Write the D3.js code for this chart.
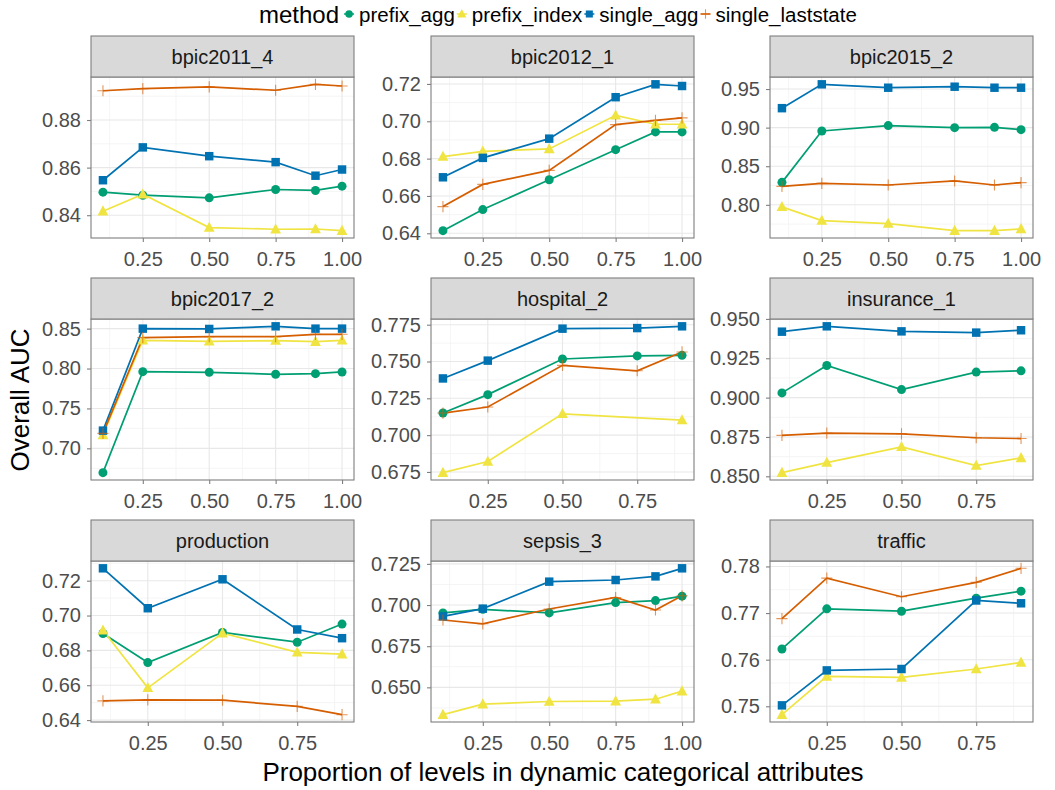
<!DOCTYPE html>
<html><head><meta charset="utf-8">
<script src="https://cdn.jsdelivr.net/npm/d3@7"></script>
<style>
body{margin:0;background:#fff}
svg{display:block}
text{font-family:"Liberation Sans",Arial,Helvetica,sans-serif}
</style>
</head><body>
<svg id="chart" width="1055" height="790"></svg>
<script>
// ---------- data ----------
const methods = ["prefix_agg","prefix_index","single_agg","single_laststate"];
const methodColors = ["#009E73","#F0E442","#0072B2","#D55E00"];
const methodShapes = ["circle","triangle","square","plus"];

const datasets = ["bpic2011_4","bpic2012_1","bpic2015_2","bpic2017_2","hospital_2","insurance_1","production","sepsis_3","traffic"];

const levelsFull = [0.1,0.25,0.5,0.75,0.9,1.0];
const levelsShort = [0.1,0.25,0.5,0.75,0.9];
const xTicksFull = ["0.25","0.50","0.75","1.00"];
const xTicksShort = ["0.25","0.50","0.75"];

// rows follow methods order: prefix_agg, prefix_index, single_agg, single_laststate
const auc_bpic2011_4 = [
  [0.8497,0.8484,0.8473,0.8508,0.8504,0.8522],
  [0.8417,0.8488,0.8348,0.8341,0.8342,0.8335],
  [0.8547,0.8685,0.8648,0.8623,0.8566,0.8592],
  [0.8923,0.8932,0.8939,0.8925,0.8950,0.8943]];
const auc_bpic2012_1 = [
  [0.6414,0.6527,0.6687,0.6848,0.6943,0.6943],
  [0.6811,0.6839,0.6852,0.7032,0.6984,0.6984],
  [0.6700,0.6804,0.6907,0.7129,0.7198,0.7189],
  [0.6543,0.6662,0.6737,0.6982,0.7005,0.7018]];
const auc_bpic2015_2 = [
  [0.8291,0.8957,0.9026,0.9000,0.9004,0.8974],
  [0.7974,0.7796,0.7757,0.7665,0.7665,0.7687],
  [0.9252,0.9561,0.9517,0.9530,0.9517,0.9517],
  [0.8239,0.8278,0.8257,0.8309,0.8257,0.8287]];
const auc_bpic2017_2 = [
  [0.6695,0.7961,0.7953,0.7928,0.7936,0.7957],
  [0.7167,0.8354,0.8341,0.8350,0.8337,0.8354],
  [0.7222,0.8500,0.8496,0.8529,0.8500,0.8500],
  [0.7188,0.8387,0.8400,0.8400,0.8429,0.8429]];
const auc_hospital_2 = [
  [0.7150,0.7275,0.7517,0.7538,0.7542],
  [0.6745,0.6821,0.7145,null,0.7102],
  [0.7385,0.7506,0.7723,0.7727,0.7739],
  [0.7150,0.7191,0.7474,0.7437,0.7565]];
const auc_insurance_1 = [
  [0.9030,0.9204,0.9051,0.9162,0.9170],
  [0.8523,0.8587,0.8687,0.8568,0.8617],
  [0.9419,0.9453,0.9421,0.9413,0.9428],
  [0.8760,0.8774,0.8770,0.8745,0.8740]];
const auc_production = [
  [0.6897,0.6730,0.6903,0.6847,0.6951],
  [0.6915,0.6585,0.6899,0.6789,0.6778],
  [0.7271,0.7042,0.7208,0.6920,0.6870],
  [0.6510,0.6516,0.6514,0.6479,0.6431]];
const auc_sepsis_3 = [
  [0.6952,0.6974,0.6952,0.7015,0.7027,0.7054],
  [0.6334,0.6398,0.6414,0.6416,0.6428,0.6477],
  [0.6931,0.6978,0.7142,0.7152,0.7174,0.7223],
  [0.6909,0.6886,0.6976,0.7046,0.6970,0.7056]];
const auc_traffic = [
  [0.7623,0.7709,0.7704,0.7732,0.7747],
  [0.7482,0.7564,0.7562,0.7580,0.7594],
  [0.7502,0.7577,0.7580,0.7727,0.7721],
  [0.7688,0.7775,0.7735,0.7766,0.7796]];

const yTicks_bpic2011_4 = ["0.84","0.86","0.88"];
const yTicks_bpic2012_1 = ["0.64","0.66","0.68","0.70","0.72"];
const yTicks_bpic2015_2 = ["0.80","0.85","0.90","0.95"];
const yTicks_bpic2017_2 = ["0.70","0.75","0.80","0.85"];
const yTicks_hospital_2 = ["0.675","0.700","0.725","0.750","0.775"];
const yTicks_insurance_1 = ["0.850","0.875","0.900","0.925","0.950"];
const yTicks_production = ["0.64","0.66","0.68","0.70","0.72"];
const yTicks_sepsis_3 = ["0.650","0.675","0.700","0.725"];
const yTicks_traffic = ["0.75","0.76","0.77","0.78"];

const panels = [
  {name:"bpic2011_4", levels:levelsFull, auc:auc_bpic2011_4, yTicks:yTicks_bpic2011_4, xTicks:xTicksFull},
  {name:"bpic2012_1", levels:levelsFull, auc:auc_bpic2012_1, yTicks:yTicks_bpic2012_1, xTicks:xTicksFull},
  {name:"bpic2015_2", levels:levelsFull, auc:auc_bpic2015_2, yTicks:yTicks_bpic2015_2, xTicks:xTicksFull},
  {name:"bpic2017_2", levels:levelsFull, auc:auc_bpic2017_2, yTicks:yTicks_bpic2017_2, xTicks:xTicksFull},
  {name:"hospital_2", levels:levelsShort, auc:auc_hospital_2, yTicks:yTicks_hospital_2, xTicks:xTicksShort},
  {name:"insurance_1", levels:levelsShort, auc:auc_insurance_1, yTicks:yTicks_insurance_1, xTicks:xTicksShort},
  {name:"production", levels:levelsShort, auc:auc_production, yTicks:yTicks_production, xTicks:xTicksShort},
  {name:"sepsis_3", levels:levelsFull, auc:auc_sepsis_3, yTicks:yTicks_sepsis_3, xTicks:xTicksFull},
  {name:"traffic", levels:levelsShort, auc:auc_traffic, yTicks:yTicks_traffic, xTicks:xTicksShort}
];

// ---------- layout ----------
const svg = d3.select("#chart");
const colLeft = [91, 431, 770];
const rowTop = [36, 278, 520];
const panelW = 263, stripH = 41, panelH = 161;
const tickColor = "#7f7f7f", borderColor = "#7f7f7f";

function expand(ext, f){ const s = ext[1]-ext[0]; return [ext[0]-s*f, ext[1]+s*f]; }

function drawShape(g, shape, color, size){
  if (shape === "circle") {
    g.append("circle").attr("r", size*0.5).attr("fill", color);
  } else if (shape === "square") {
    g.append("rect").attr("x",-size*0.47).attr("y",-size*0.47).attr("width",size*0.94).attr("height",size*0.94).attr("fill",color);
  } else if (shape === "triangle") {
    const h = size*1.05, w = size*1.2;
    g.append("path").attr("d", `M0,${-h*0.62}L${w/2},${h*0.45}L${-w/2},${h*0.45}Z`).attr("fill", color);
  } else {
    const a = size*0.62;
    g.append("path").attr("d", `M${-a},0H${a}M0,${-a}V${a}`).attr("stroke", color).attr("stroke-width",1.1).attr("opacity",0.65).attr("fill","none");
  }
}

panels.forEach((p, i) => {
  const col = i % 3, row = Math.floor(i / 3);
  const left = colLeft[col], top = rowTop[row] + stripH;
  const g = svg.append("g").attr("transform", `translate(${left},${top})`);

  const allVals = p.auc.flat().filter(v => v != null);
  const x = d3.scaleLinear().domain(expand(d3.extent(p.levels), 0.05)).range([0, panelW]);
  const y = d3.scaleLinear().domain(expand(d3.extent(allVals), 0.05)).range([panelH, 0]);

  const yMajor = p.yTicks.map(Number);
  const xMajor = p.xTicks.map(Number);
  const minorOf = (maj, dom) => {
    const st = maj[1]-maj[0], out = [];
    for (let v = maj[0]-st/2; v <= maj[maj.length-1]+st/2 + 1e-9; v += st) {
      if (v >= dom[0] && v <= dom[1]) out.push(v);
    }
    return out;
  };
  const yMinor = minorOf(yMajor, y.domain());
  const xMinor = minorOf(xMajor, x.domain());

  g.append("rect").attr("width", panelW).attr("height", panelH).attr("fill", "#fff");
  // minor grid
  g.selectAll(".ymin").data(yMinor).enter().append("line")
    .attr("x1",0).attr("x2",panelW).attr("y1",d=>y(d)).attr("y2",d=>y(d))
    .attr("stroke","#f3f3f3").attr("stroke-width",0.8);
  g.selectAll(".xmin").data(xMinor).enter().append("line")
    .attr("y1",0).attr("y2",panelH).attr("x1",d=>x(d)).attr("x2",d=>x(d))
    .attr("stroke","#f3f3f3").attr("stroke-width",0.8);
  // major grid
  g.selectAll(".ymaj").data(yMajor).enter().append("line")
    .attr("x1",0).attr("x2",panelW).attr("y1",d=>y(d)).attr("y2",d=>y(d))
    .attr("stroke","#e8e8e8").attr("stroke-width",1.1);
  g.selectAll(".xmaj").data(xMajor).enter().append("line")
    .attr("y1",0).attr("y2",panelH).attr("x1",d=>x(d)).attr("x2",d=>x(d))
    .attr("stroke","#e8e8e8").attr("stroke-width",1.1);

  const line = d3.line().x(d=>x(d[0])).y(d=>y(d[1]));
  methods.forEach((m, mi) => {
    const pts = p.levels.map((lv, k) => [lv, p.auc[mi][k]]).filter(d => d[1] != null);
    g.append("path").attr("d", line(pts)).attr("fill","none")
      .attr("stroke", methodColors[mi]).attr("stroke-width", 1.7);
  });
  methods.forEach((m, mi) => {
    p.levels.forEach((lv, k) => {
      const v = p.auc[mi][k];
      if (v == null) return;
      const pg = g.append("g").attr("transform", `translate(${x(lv)},${y(v)})`);
      drawShape(pg, methodShapes[mi], methodColors[mi], 9);
    });
  });

  g.append("rect").attr("width", panelW).attr("height", panelH)
    .attr("fill","none").attr("stroke", borderColor).attr("stroke-width", 1.1);

  // strip
  const sg = svg.append("g").attr("transform", `translate(${left},${rowTop[row]})`);
  sg.append("rect").attr("width", panelW).attr("height", stripH)
    .attr("fill","#d9d9d9").attr("stroke", borderColor).attr("stroke-width",1.1);
  sg.append("text").attr("x", panelW/2).attr("y", stripH/2 + 7)
    .attr("text-anchor","middle").attr("font-size",20).attr("fill","#1a1a1a").text(p.name);

  // axes
  const yAxis = d3.axisLeft(y).tickValues(yMajor).tickFormat((d,k)=>p.yTicks[k]).tickSize(4).tickPadding(6);
  const xAxis = d3.axisBottom(x).tickValues(xMajor).tickFormat((d,k)=>p.xTicks[k]).tickSize(4).tickPadding(10);
  const ya = g.append("g").call(yAxis);
  const xa = g.append("g").attr("transform", `translate(0,${panelH})`).call(xAxis);
  [ya, xa].forEach(a => {
    a.select(".domain").remove();
    a.selectAll(".tick line").attr("stroke", tickColor).attr("stroke-width",1.1);
    a.selectAll(".tick text").attr("font-size",20).attr("fill","#4d4d4d")
      .attr("font-family",'"Liberation Sans",Arial,sans-serif');
  });
});

// axis titles
svg.append("text").attr("x", 563).attr("y", 781).attr("text-anchor","middle")
  .attr("font-size",26).attr("fill","#000").text("Proportion of levels in dynamic categorical attributes");
svg.append("text").attr("transform","translate(29,400) rotate(-90)").attr("text-anchor","middle")
  .attr("font-size",26).attr("fill","#000").text("Overall AUC");

// legend
const lg = svg.append("g").attr("transform","translate(259,0)");
const title = lg.append("text").attr("x",0).attr("y",23).attr("font-size",24).attr("fill","#000").text("method");
let cx = title.node().getComputedTextLength() + 10;
methods.forEach((m, mi) => {
  const kg = lg.append("g").attr("transform", `translate(${cx},14)`);
  kg.append("line").attr("x1",-5).attr("x2",5).attr("stroke",methodColors[mi]).attr("stroke-width",1.5);
  drawShape(kg, methodShapes[mi], methodColors[mi], 7.5);
  const t = lg.append("text").attr("x", cx + 10).attr("y", 22).attr("font-size",20.5).attr("fill","#000").text(m);
  cx = cx + 10 + t.node().getComputedTextLength() + 7;
});
</script>
</body></html>
